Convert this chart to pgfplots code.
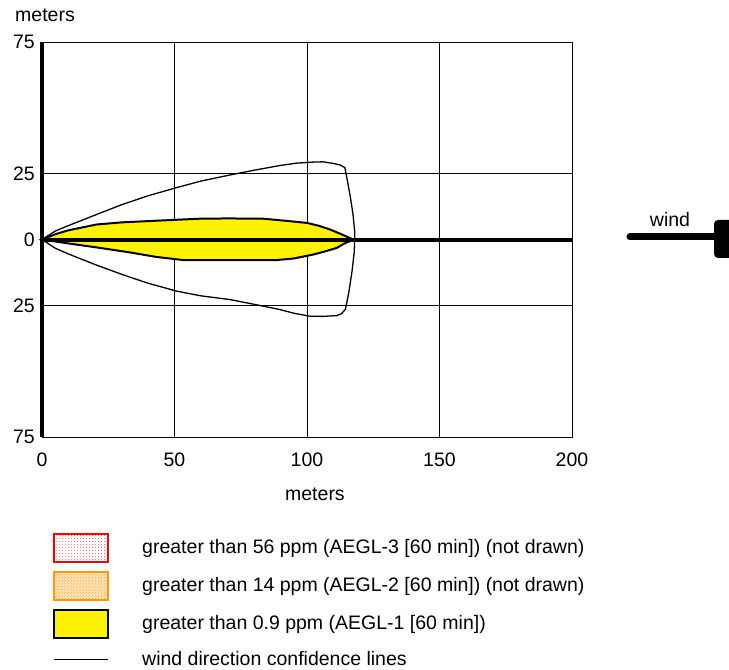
\documentclass[border=0pt]{standalone}
\usepackage{fontspec}
\setmainfont{Liberation Sans}
\usepackage{pgfplots}
\pgfplotsset{compat=1.18}
\usetikzlibrary{patterns}
\definecolor{aeglorange}{RGB}{255,153,0}

\begin{document}
\begin{tikzpicture}[font=\fontsize{19.5bp}{22bp}\selectfont]
\path[use as bounding box] (-42bp,-233bp) rectangle (687bp,437bp);
\begin{axis}[
  scale only axis, width=530bp, height=395bp,
  xmin=0, xmax=200, ymin=-75, ymax=75,
  clip=false,
  xtick={0,50,100,150,200},
  ytick={-75,-25,0,25,75},
  yticklabels={75,25,0,25,75},
  major tick length=0pt,
  grid=major,
  major grid style={black, line width=0.8bp},
  axis line style={black, line width=0.8bp},
  /pgf/number format/assume math mode=true,
  tick label style={font=\fontsize{19.5bp}{22bp}\selectfont, inner sep=0pt},
  xticklabel style={yshift=-16bp},
  yticklabel style={xshift=-7bp},
  xlabel={meters}, ylabel={meters},
  every axis x label/.style={at={(axis description cs:0.515,-0.1443)}, anchor=center},
  every axis y label/.style={at={(axis description cs:0.0057,1.068)}, anchor=center},
  legend style={at={(axis description cs:0.0208,-0.2436)}, anchor=north west,
    draw=none, fill=none, inner sep=0pt, row sep=8.4bp, column sep=33bp,
    font=\fontsize{19.5bp}{22bp}\selectfont,
    nodes={inner sep=0pt, text height=14bp, text depth=8bp, yshift=3.5bp}},
  legend cell align=left,
]
\addlegendimage{legend image code/.code={\draw[red, line width=1.5bp, pattern=dots, pattern color=red!70] (0bp,-8bp) rectangle (54bp,20bp);}}
\addlegendentry{greater than 56 ppm (AEGL-3 [60 min]) (not drawn)}
\addlegendimage{legend image code/.code={\fill[aeglorange!25] (0bp,-8bp) rectangle (54bp,20bp); \draw[aeglorange, line width=1.5bp, pattern=crosshatch dots, pattern color=aeglorange] (0bp,-8bp) rectangle (54bp,20bp);}}
\addlegendentry{greater than 14 ppm (AEGL-2 [60 min]) (not drawn)}

% AEGL-1 threat zone
\addplot[fill=yellow, draw=black, line width=2bp,
  legend image code/.code={\draw[fill=yellow, draw=black, line width=2bp] (0bp,-8bp) rectangle (54bp,20bp);}]
  coordinates {
  (0,0) (5,2.0) (10,3.5) (20.6,5.7) (30,6.5) (44.5,7.2) (59.6,7.9) (70,8.0)
  (83.5,7.9) (91,7.2) (100,6.3) (104.5,5.2) (108.7,3.8) (113,2.0) (117.4,0)
  (114,-1.6) (111.2,-3.2) (106.5,-4.6) (102.4,-5.7) (95,-7.2) (88.6,-7.8)
  (70,-7.8) (53.3,-7.8) (43,-6.6) (33.2,-4.9) (20.6,-3.0) (10,-1.5) (0,0)
  } -- cycle;
\addlegendentry{greater than 0.9 ppm (AEGL-1 [60 min])}

% wind direction confidence lines
\addplot[black, line width=1.3bp,
  legend image code/.code={\path[draw=none, fill=none] (0bp,-8.75bp) rectangle (54bp,18bp); \draw[black, line width=1.3bp] (0bp,6bp) -- (54bp,6bp);}]
  coordinates {
  (0,0) (5,3.2) (10,5.3) (20.6,9.5) (30,13.2) (40,16.6) (50.8,19.7) (60,22.2)
  (70.9,24.5) (80,26.3) (89.8,28.1) (96,29.0) (102.4,29.4) (106,29.5) (109.9,28.9)
  (112.5,28.3) (114.3,27.3) (115.3,22) (116.3,16.5) (117.3,10) (118,3) (118,0)
  (117.8,-5) (117,-12) (115.8,-20) (114.5,-26.5) (113,-28.2) (111.2,-28.9)
  (106,-29.2) (101,-29.1) (95,-28) (89.8,-26.6) (80,-24.6) (70.9,-22.8)
  (60,-21.4) (50.8,-19.6) (40,-16.6) (30,-13.2) (20,-9.5) (10,-5.5) (5,-3.3) (0,0)
  };
\addlegendentry{wind direction confidence lines}

% source axis and wind centerline
\addplot[black, line width=3.5bp, forget plot] coordinates {(0,-75) (0,75)};
\addplot[black, line width=4bp, forget plot] coordinates {(0,0) (200,0)};
\end{axis}
% wind arrow
\draw[line width=7bp, line cap=round] (588bp,200bp) -- (674bp,200bp);
\fill[rounded corners=4bp] (672bp,179bp) rectangle (694bp,217bp);
\node[inner sep=0pt] at (628bp,217bp) {wind};
\end{tikzpicture}
\end{document}
